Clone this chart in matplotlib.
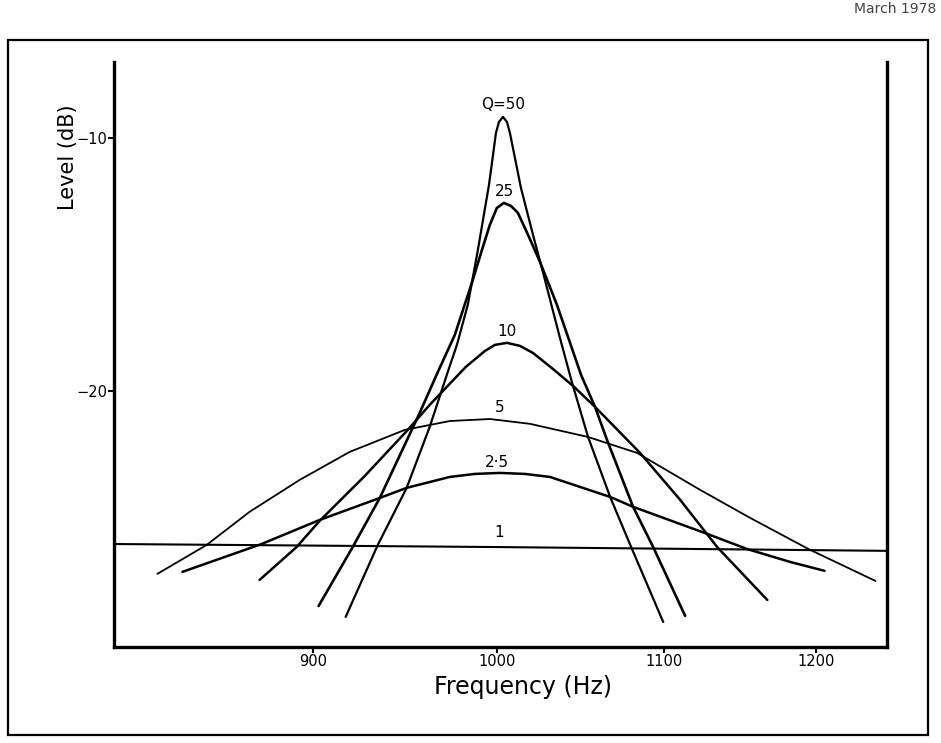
import matplotlib
matplotlib.use('Agg')
import matplotlib.pyplot as plt
from matplotlib.patches import Rectangle

# level (dB) against frequency (Hz)
freq_q50 = [916.9, 933.9, 949.5, 962.1, 972.1, 977.2, 983.3, 989.0, 995.3, 999.3, 1001.0, 1003.3,
            1005.6, 1007.3, 1013.7, 1020.7, 1027.7, 1036.6, 1043.8, 1053.4, 1066.8, 1079.7, 1099.7]
level_q50 = [-28.93, -26.09, -23.83, -21.42, -19.25, -18.18, -16.60, -14.43, -11.86, -9.80, -9.37, -9.17,
             -9.37, -9.80, -11.98, -13.83, -15.61, -17.91, -19.68, -21.82, -24.19, -26.17, -29.13]

freq_q25 = [902.8, 920.6, 935.0, 956.6, 966.6, 976.0, 985.6, 991.3, 995.8, 999.8, 1003.8, 1007.9,
            1011.9, 1017.8, 1024.8, 1034.8, 1049.2, 1057.6, 1064.9, 1080.9, 1093.4, 1113.6]
level_q25 = [-28.50, -26.17, -24.23, -20.87, -19.25, -17.79, -15.73, -14.43, -13.44, -12.77, -12.57, -12.69,
             -12.96, -13.83, -14.90, -16.60, -19.37, -20.63, -21.94, -24.58, -26.17, -28.89]

freq_q10 = [872.8, 891.5, 903.3, 927.0, 950.1, 962.1, 972.1, 982.2, 993.0, 998.7, 1005.6, 1013.1,
            1020.7, 1032.4, 1045.0, 1057.6, 1085.2, 1110.5, 1134.2, 1167.2]
level_q10 = [-27.47, -26.17, -25.14, -23.36, -21.54, -20.55, -19.80, -19.05, -18.42, -18.18, -18.10, -18.22,
             -18.50, -19.13, -19.84, -20.63, -22.45, -24.31, -26.17, -28.26]

freq_q5 = [823.2, 846.7, 867.8, 893.0, 919.0, 948.5, 973.2, 995.8, 1018.9, 1053.4, 1083.4, 1123.2,
           1155.9, 1195.1, 1241.8]
level_q5 = [-27.23, -26.09, -24.78, -23.52, -22.41, -21.54, -21.19, -21.11, -21.30, -21.82, -22.45, -23.91,
            -25.02, -26.25, -27.51]

freq_q2_5 = [835.1, 873.8, 903.3, 935.0, 949.5, 973.2, 987.3, 1001.5, 1016.0, 1030.7, 1066.8, 1080.9,
             1127.8, 1153.9, 1182.7, 1206.1]
level_q2_5 = [-27.15, -26.05, -25.10, -24.23, -23.83, -23.40, -23.28, -23.24, -23.28, -23.40, -24.19, -24.58,
              -25.65, -26.25, -26.76, -27.11]

freq_q1 = [803, 1000, 1250]
level_q1 = [-26.05, -26.17, -26.32]

curve_labels = ['Q=50', '25', '10', '5', '2·5', '1']
label_freqs = [1003.3, 1004.4, 1005.6, 1001.5, 1000.0, 1001.0]
label_levels = [-8.70, -12.10, -17.67, -20.67, -22.81, -25.61]

xticks = [900, 1000, 1100, 1200]
yticks = [-10, -20]

# %% figure
plt.rcParams['font.family'] = 'DejaVu Sans'
fig = plt.figure(figsize=(9.41, 7.43), dpi=100)
ax = fig.add_axes([0.1211, 0.1292, 0.8215, 0.7874])

curves = [(freq_q50, level_q50, 1.6), (freq_q25, level_q25, 1.9), (freq_q10, level_q10, 1.8),
          (freq_q5, level_q5, 1.3), (freq_q2_5, level_q2_5, 1.8), (freq_q1, level_q1, 1.5)]
for f, lev, lw in curves:
    ax.plot(f, lev, color='black', lw=lw, solid_joinstyle='round', solid_capstyle='round')

for txt, f, lev in zip(curve_labels, label_freqs, label_levels):
    ax.text(f, lev, txt, ha='center', va='center', fontsize=11)

ax.set_xscale('log')
ax.set_xlim(803, 1250)
ax.set_ylim(-30.12, -7.0)
ax.minorticks_off()
ax.set_xticks(xticks)
ax.set_xticklabels([str(t) for t in xticks], fontsize=10.5)
ax.set_yticks(yticks)
ax.set_yticklabels(['\u221210', '\u221220'], fontsize=10.5)
ax.tick_params(direction='out', length=4, width=1.5, pad=1)
ax.spines['top'].set_visible(False)
for side in ['left', 'bottom', 'right']:
    ax.spines[side].set_linewidth(2.4)
ax.set_xlabel('Frequency (Hz)', fontsize=17)
ax.xaxis.set_label_coords(0.529, -0.048)
ax.set_ylabel('Level (dB)', fontsize=15)
ax.yaxis.set_label_coords(-0.046, 0.838)

# outer frame of the scanned page
fig.add_artist(Rectangle((0.0085, 0.0108), 0.9777, 0.9352, transform=fig.transFigure,
                         fill=False, lw=1.6, edgecolor='black'))
fig.text(0.995, 0.988, 'March 1978', ha='right', va='center', fontsize=10, color='#444444')

fig.savefig('out.png', dpi=100)
